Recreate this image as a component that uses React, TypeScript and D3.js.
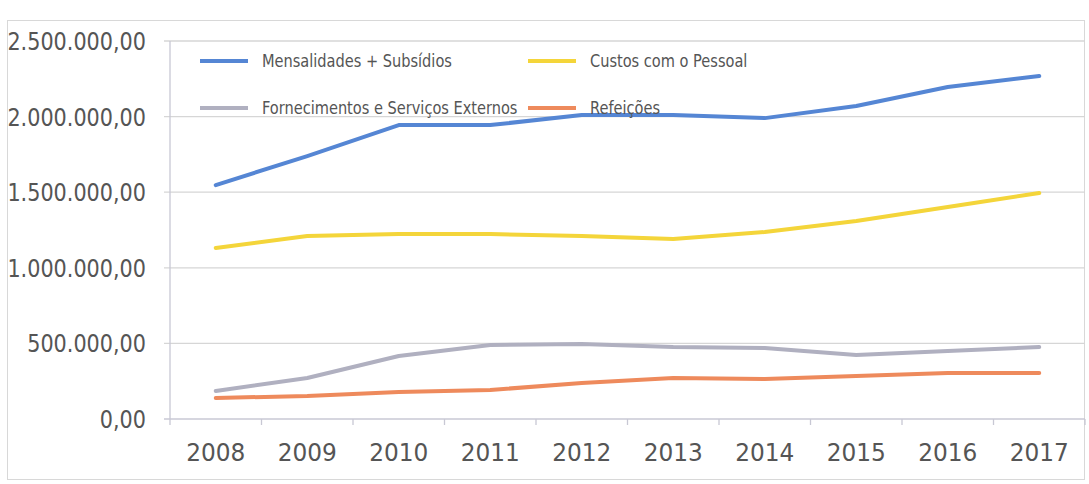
import React from "react";
import * as d3 from "d3";

const years = ["2008","2009","2010","2011","2012","2013","2014","2015","2016","2017"];
const mensalidades = [1547000,1739000,1944000,1944000,2010000,2010000,1990000,2070000,2196000,2268000];
const custosPessoal = [1131000,1210000,1223000,1223000,1210000,1190000,1237000,1310000,1402000,1495000];
const fornecimentos = [185000,271000,417000,489000,496000,476000,470000,423000,450000,476000];
const refeicoes = [139000,152000,179000,192000,238000,271000,265000,284000,304000,304000];
const yTicks = [0,500000,1000000,1500000,2000000,2500000];
const seriesNames = ["Mensalidades + Subsídios","Custos com o Pessoal","Fornecimentos e Serviços Externos","Refeições"];
const seriesColors = ["#5586d4","#f4d53a","#b0b0c0","#ee8a5c"];

const fmt = (v: number) => {
  const s = Math.round(v).toString().replace(/\B(?=(\d{3})+(?!\d))/g, ".");
  return s + ",00";
};

export default function App() {
  const W = 1089, H = 484;
  const left = 170, right = 1085, top = 41, bottom = 419;
  const x = d3.scaleBand<string>().domain(years).range([left, right]);
  const y = d3.scaleLinear().domain([0, 2500000]).range([bottom, top]);
  const line = d3.line<number>()
    .x((_, i) => (x(years[i]) as number) + x.bandwidth() / 2)
    .y(d => y(d))
    .curve(d3.curveLinear);
  const data = [mensalidades, custosPessoal, fornecimentos, refeicoes];
  const font = "'DejaVu Sans',sans-serif";
  const legendPos = [
    { lx: 200, ty: 61 },
    { lx: 528, ty: 61 },
    { lx: 200, ty: 108 },
    { lx: 528, ty: 108 },
  ];
  return (
    <svg width={W} height={H} style={{ position: "absolute", left: 0, top: 0, background: "#fff" }}>
      <rect x={7.5} y={20.5} width={1077} height={459} fill="none" stroke="#d8d8d8" strokeWidth={1} />
      {yTicks.map(t => (
        <g key={t}>
          <line x1={164} x2={right} y1={y(t)} y2={y(t)} stroke={t === 0 ? "#c8c8d4" : "#d6d6d6"} strokeWidth={1.3} />
          <text transform={`translate(146,${y(t) + 9}) scale(0.83,1)`} textAnchor="end" fontFamily={font} fontSize={25} fill="#555">{fmt(t)}</text>
        </g>
      ))}
      <line x1={left} x2={left} y1={top} y2={bottom + 6} stroke="#c8c8d4" strokeWidth={1.3} />
      {years.map((yr) => (
        <g key={yr}>
          <line x1={(x(yr) as number) + x.bandwidth()} x2={(x(yr) as number) + x.bandwidth()} y1={bottom} y2={bottom + 6} stroke="#c8c8d4" strokeWidth={1.3} />
          <text transform={`translate(${(x(yr) as number) + x.bandwidth() / 2},${bottom + 42}) scale(0.93,1)`} textAnchor="middle" fontFamily={font} fontSize={25} fill="#555">{yr}</text>
        </g>
      ))}
      {data.map((d, i) => (
        <path key={i} d={line(d) || ""} fill="none" stroke={seriesColors[i]} strokeWidth={4} strokeLinecap="round" strokeLinejoin="round" />
      ))}
      {seriesNames.map((n, i) => (
        <g key={n}>
          <line x1={legendPos[i].lx} x2={legendPos[i].lx + 48} y1={legendPos[i].ty} y2={legendPos[i].ty} stroke={seriesColors[i]} strokeWidth={4} />
          <text transform={`translate(${legendPos[i].lx + 62},${legendPos[i].ty + 6}) scale(0.81,1)`} fontFamily={font} fontSize={18} fill="#555">{n}</text>
        </g>
      ))}
    </svg>
  );
}
